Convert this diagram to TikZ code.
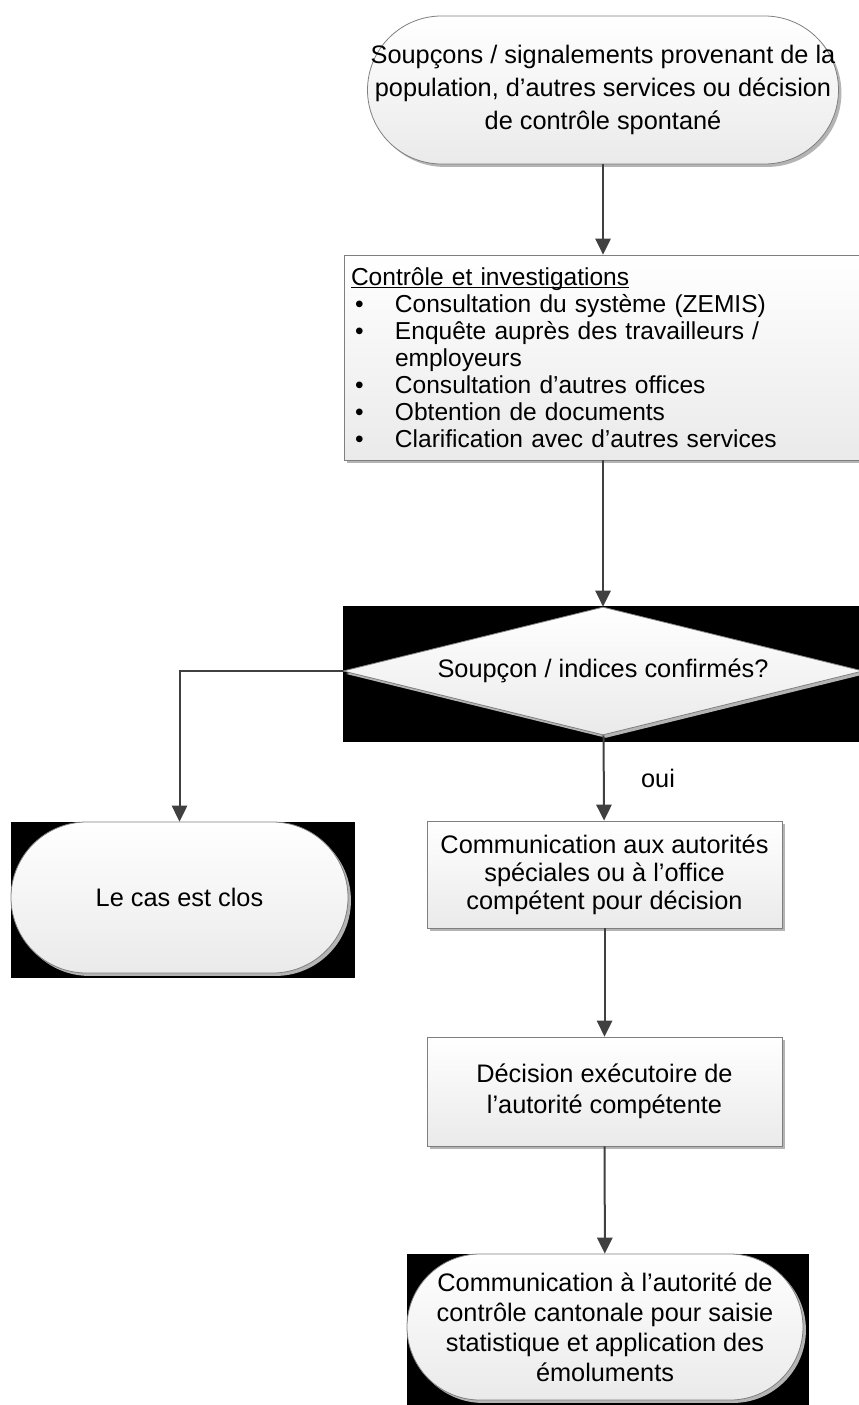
\documentclass[tikz,border=0pt]{standalone}
\usepackage{fontspec}
\setmainfont{Liberation Sans}
\usepackage{tikz}
\usetikzlibrary{arrows.meta, positioning, shapes.geometric, shadows}
\definecolor{edgegray}{HTML}{7F7F7F}
\definecolor{linkgray}{HTML}{404040}
\definecolor{shadegray}{HTML}{EAEAEA}
\definecolor{shadowgray}{HTML}{B4B4B4}
% underline that sits just under the baseline
\newcommand\headrule[1]{\setbox0\hbox{#1}\rlap{\rule[-2.2pt]{\wd0}{0.75pt}}#1}
\newcommand\listitem{\hspace*{3pt}\makebox[30pt][l]{\textbullet}}

\begin{document}
\begin{tikzpicture}[x=0.75pt, y=-0.75pt,
    base/.style={draw=edgegray, line width=0.6pt, top color=white, bottom color=shadegray,
                 text=black, align=center, inner sep=0pt,
                 font=\fontsize{19}{23.5}\selectfont,
                 drop shadow={shadow xshift=2.2pt, shadow yshift=-2.2pt, fill=shadowgray, opacity=1}},
    term/.style={base, rectangle},
    proc/.style={base, rectangle},
    decide/.style={base, diamond, shape aspect=4.06},
    arrow/.style={-{Triangle[length=12pt, width=11.5pt]}, line width=1.5pt, color=linkgray}
  ]
    \useasboundingbox (0,0) rectangle (859,1405);

    % black patches behind some shapes
    \fill[black] (343,606) rectangle (859,742);
    \fill[black] (11,822) rectangle (355,978);
    \fill[black] (407,1254) rectangle (809,1405);

    \node[term, rounded corners=55.5pt, minimum width=353.25pt, minimum height=111pt,
          font=\fontsize{19}{24.5}\selectfont]
      (start) at (603, 90) {Soupçons / signalements provenant de la\\
                            population, d’autres services ou décision\\
                            de contrôle spontané};

    \node[proc, minimum width=388.5pt, minimum height=153.75pt, inner xsep=5.25pt,
          text width=378pt, align=left, font=\fontsize{18.4}{20.25}\selectfont]
      (check) at (603, 357.5) {\headrule{Contrôle et investigations}\\
        \listitem Consultation du système (ZEMIS)\\
        \listitem Enquête auprès des travailleurs /\\
        \hspace*{33pt}employeurs\\
        \listitem Consultation d’autres offices\\
        \listitem Obtention de documents\\
        \listitem Clarification avec d’autres services};

    \node[decide, minimum width=390pt, minimum height=96pt]
      (decision) at (603, 671) {Soupçon / indices confirmés?};

    \node[term, rounded corners=56.6pt, minimum width=252.75pt, minimum height=113.25pt]
      (closed) at (179.5, 897.5) {Le cas est clos};

    \node[proc, minimum width=266.25pt, minimum height=80.25pt,
          font=\fontsize{19}{21}\selectfont]
      (notify) at (604.5, 874.5) {Communication aux autorités\\
                                  spéciales ou à l’office\\
                                  compétent pour décision};

    \node[proc, minimum width=266.25pt, minimum height=81.75pt]
      (ruling) at (604.5, 1091.5) {Décision exécutoire de\\
                                   l’autorité compétente};

    \node[term, rounded corners=54.75pt, minimum width=297pt, minimum height=109.5pt,
          font=\fontsize{19}{22.5}\selectfont]
      (report) at (605, 1327) {Communication à l’autorité de\\
                               contrôle cantonale pour saisie\\
                               statistique et application des\\
                               émoluments};

    \node[font=\fontsize{19}{22}\selectfont] (yes) at (658, 778) {oui};

    \draw[arrow] (start) -- (check);
    \draw[arrow] (check) -- (decision);
    \draw[arrow] (decision.west) -| (closed.north);
    \draw[arrow] (decision) -- (notify);
    \draw[arrow] (notify) -- (ruling);
    \draw[arrow] (ruling) -- (report);
  \end{tikzpicture}
\end{document}
